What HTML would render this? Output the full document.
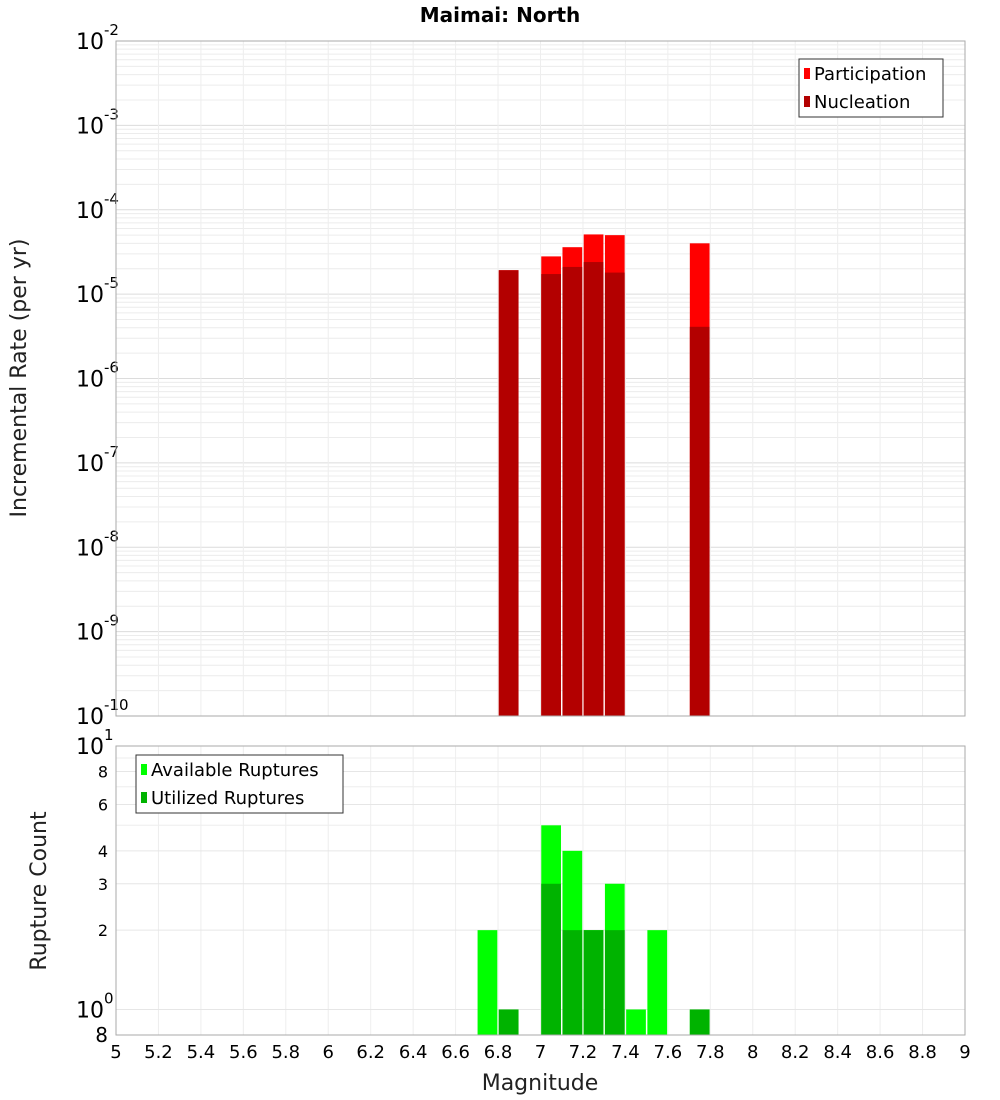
<!DOCTYPE html>
<html><head><meta charset="utf-8"><style>
body{margin:0;background:#fff;font-family:"Liberation Sans","DejaVu Sans",sans-serif}
svg{display:block}
</style></head><body>
<svg id="c" width="1000" height="1100" xmlns="http://www.w3.org/2000/svg" font-family="DejaVu Sans, Liberation Sans, sans-serif">
<text x="500" y="22" text-anchor="middle" font-size="20" font-weight="bold">Maimai: North</text>
<g id="topPlot"></g>
<g id="botPlot"></g>
<text transform="translate(26,378) rotate(-90)" text-anchor="middle" font-size="22" fill="#222">Incremental Rate (per yr)</text>
<text transform="translate(46,891) rotate(-90)" text-anchor="middle" font-size="22" fill="#222">Rupture Count</text>
<text x="540" y="1090" text-anchor="middle" font-size="22" fill="#222">Magnitude</text>
</svg>
<script>
const mags=[6.85,7.05,7.15,7.25,7.35,7.75];
const participation=[1.92e-5,2.8e-5,3.6e-5,5.1e-5,5.0e-5,4.0e-5];
const nucleation=[1.92e-5,1.73e-5,2.1e-5,2.4e-5,1.8e-5,4.1e-6];
const cntMags=[6.75,6.85,7.05,7.15,7.25,7.35,7.45,7.55,7.75];
const available=[2,1,5,4,2,3,1,2,1];
const utilized=[0,1,3,2,2,2,0,0,1];
const xTicks=[5,5.2,5.4,5.6,5.8,6,6.2,6.4,6.6,6.8,7,7.2,7.4,7.6,7.8,8,8.2,8.4,8.6,8.8,9];
const rateExps=[-2,-3,-4,-5,-6,-7,-8,-9,-10];
const cntTicks=[8,6,4,3,2];

const NS="http://www.w3.org/2000/svg";
const X0=116,X1=965;
const xs=m=>X0+(m-5)/4*(X1-X0);
const T0=41,T1=716;
const yTop=v=>T0+(-2-Math.log10(v))/8*(T1-T0);
const B0=746,B1=1035,bLo=Math.log10(0.8);
const yBot=v=>B0+(1-Math.log10(v))/(1-bLo)*(B1-B0);
function el(parent,tag,attrs,txt){const e=document.createElementNS(NS,tag);for(const k in attrs)e.setAttribute(k,attrs[k]);if(txt!==undefined)e.textContent=txt;parent.appendChild(e);return e;}
const gTop=document.getElementById('topPlot'),gBot=document.getElementById('botPlot');

for(let d=-10;d<-2;d++){for(let k=2;k<10;k++){const y=yTop(k*Math.pow(10,d));
const l=el(gTop,'line',{x1:X0,x2:X1,y1:y,y2:y,stroke:'#ececec','stroke-width':1});

}}
rateExps.forEach(e=>{const y=yTop(Math.pow(10,e));
const l=el(gTop,'line',{x1:X0,x2:X1,y1:y,y2:y,stroke:'#dcdcdc','stroke-width':1});


const t=el(gTop,'text',{x:104,y:y+8,'text-anchor':'end','font-size':22});


t.textContent='10';
const s=el(gTop,'text',{x:104,y:y-6,'font-size':15},String(e));

});
xTicks.forEach(m=>{const x=xs(m);
const l=el(gTop,'line',{x1:x,x2:x,y1:T0,y2:T1,stroke:'#eeeeee'});


const l2=el(gBot,'line',{x1:x,x2:x,y1:B0,y2:B1,stroke:'#eeeeee'});


const t=el(gBot,'text',{x:x,y:1058,'text-anchor':'middle','font-size':18},String(m));

});
const w=xs(5.1)-xs(5)-1.5;
mags.forEach((m,i)=>{const x=xs(m-0.05)+0.75;
const r=el(gTop,'rect',{x:x,width:w,y:yTop(participation[i]),height:T1-yTop(participation[i]),fill:'#ff0000'});


const r2=el(gTop,'rect',{x:x,width:w,y:yTop(nucleation[i]),height:T1-yTop(nucleation[i]),fill:'#b30000'});

});
const f1=el(gTop,'rect',{x:X0,y:T0,width:X1-X0,height:T1-T0,fill:'none',stroke:'#aaa'});



[1,...cntTicks,10].forEach(v=>{const y=yBot(v);
const l=el(gBot,'line',{x1:X0,x2:X1,y1:y,y2:y,stroke:'#e6e6e6'});

});
[5,7,9].forEach(v=>{const y=yBot(v);const l=el(gBot,'line',{x1:X0,x2:X1,y1:y,y2:y,stroke:'#eeeeee'});

});
cntTicks.forEach(v=>{const t=el(gBot,'text',{x:108,y:yBot(v)+6,'text-anchor':'end','font-size':16},String(v));

});
[[10,'1'],[1,'0']].forEach(([v,e])=>{const y=yBot(v);
const t=el(gBot,'text',{x:104,y:y+8,'text-anchor':'end','font-size':22},'10');


const s=el(gBot,'text',{x:104,y:y-6,'font-size':15},e);

});
const t8=el(gBot,'text',{x:108,y:1042,'text-anchor':'end','font-size':20},'8');


cntMags.forEach((m,i)=>{const x=xs(m-0.05)+0.75;
if(available[i]>0){const r=el(gBot,'rect',{x:x,width:w,y:yBot(available[i]),height:B1-yBot(available[i]),fill:'#00ff00'});

}
if(utilized[i]>0){const r=el(gBot,'rect',{x:x,width:w,y:yBot(utilized[i]),height:B1-yBot(utilized[i]),fill:'#00b300'});

}});
const f2=el(gBot,'rect',{x:X0,y:B0,width:X1-X0,height:B1-B0,fill:'none',stroke:'#aaa'});



function legend(par,x,y,wd,items){const g=el(par,'g',{});


el(g,'rect',{x:x,y:y,width:wd,height:58,fill:'#fff',stroke:'#333'});
items.forEach(([c,l],i)=>{const r=el(g,'rect',{x:x+5,y:y+9+i*28,width:6,height:11,fill:c});


const t=el(g,'text',{x:x+15,y:y+21+i*28,'font-size':18},l);

});}
legend(gTop,799,59,144,[['#ff0000','Participation'],['#b30000','Nucleation']]);
legend(gBot,136,755,207,[['#00ff00','Available Ruptures'],['#00b300','Utilized Ruptures']]);
</script>
</body></html>
